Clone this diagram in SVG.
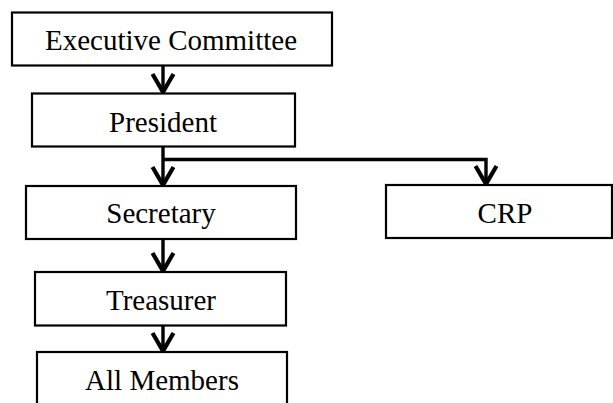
<svg xmlns="http://www.w3.org/2000/svg" width="613" height="403" viewBox="0 0 613 403">
<style>
.box{fill:#fff;stroke:#000;stroke-width:2.2}
.lbl{font-family:"Liberation Serif","Times New Roman",serif;font-size:29px;fill:#000;text-anchor:middle}
.con{fill:none;stroke:#000;stroke-width:3.4}
</style>
<defs>
<marker id="arr" markerUnits="userSpaceOnUse" markerWidth="30" markerHeight="30" refX="0" refY="0" orient="auto" overflow="visible" viewBox="-25 -15 30 30">
<path d="M-19,-10.5 L-1,0 L-19,10.5" fill="none" stroke="#000" stroke-width="4.2" stroke-linejoin="miter"/>
</marker>
</defs>
<rect width="613" height="403" fill="#fff"/>
<g id="connectors">
<line class="con" x1="163" y1="66" x2="163" y2="93" marker-end="url(#arr)"/>
<line class="con" x1="163" y1="147" x2="163" y2="186" marker-end="url(#arr)"/>
<path class="con" d="M163,159.5 H486 V185" marker-end="url(#arr)"/>
<line class="con" x1="163" y1="240" x2="163" y2="272" marker-end="url(#arr)"/>
<line class="con" x1="163" y1="326" x2="163" y2="352" marker-end="url(#arr)"/>
</g>
<g id="executive-committee">
<rect class="box" x="12" y="12.5" width="320" height="53"/>
<text class="lbl" x="171" y="50">Executive Committee</text>
</g>
<g id="president">
<rect class="box" x="32" y="93.5" width="263" height="53"/>
<text class="lbl" x="163" y="132">President</text>
</g>
<g id="secretary">
<rect class="box" x="26" y="186" width="270" height="53"/>
<text class="lbl" x="161" y="223">Secretary</text>
</g>
<g id="crp">
<rect class="box" x="386" y="185" width="226" height="53"/>
<text class="lbl" x="505" y="223">CRP</text>
</g>
<g id="treasurer">
<rect class="box" x="35" y="272" width="251" height="53.5"/>
<text class="lbl" x="161" y="310">Treasurer</text>
</g>
<g id="all-members">
<rect class="box" x="37" y="352" width="250" height="70"/>
<text class="lbl" x="162" y="390">All Members</text>
</g>
</svg>
